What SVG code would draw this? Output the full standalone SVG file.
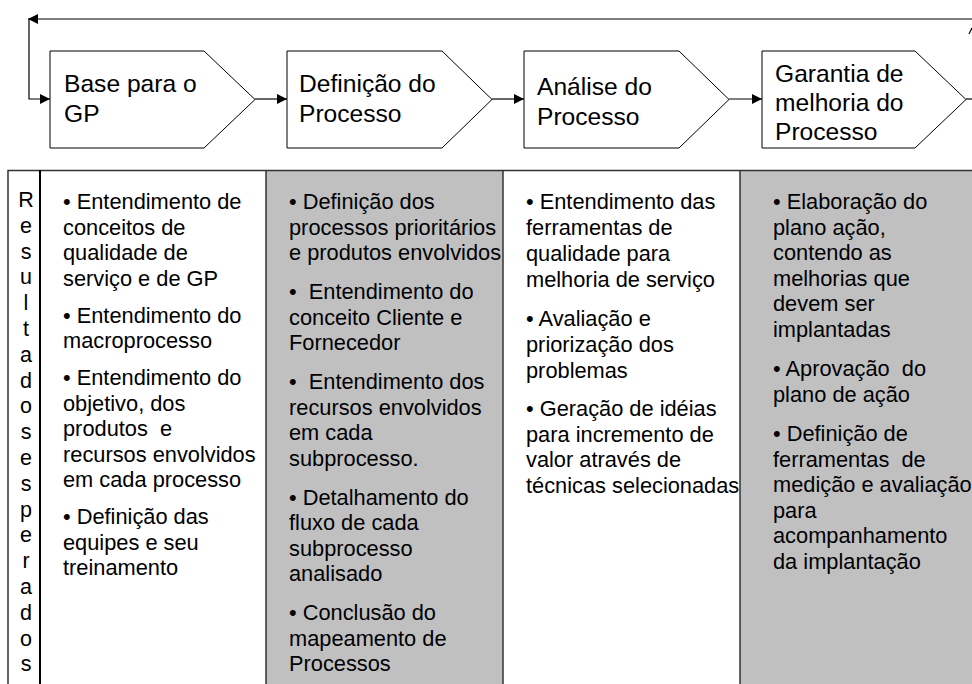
<svg xmlns="http://www.w3.org/2000/svg" width="972" height="684" viewBox="0 0 972 684">
<style>
text{font-family:"Liberation Sans",Arial,sans-serif;fill:#000;white-space:pre}
.t{font-size:24.6px}
.b{font-size:21.8px}
.v{font-size:21.5px;text-anchor:middle}
.box{fill:#fff;stroke:#000;stroke-width:1}
.con{fill:none;stroke:#000;stroke-width:1.2}
.gray{fill:#c0c0c0}
.grid{stroke:#333;stroke-width:1.5;fill:none}
</style>
<defs>
<marker id="ah" viewBox="0 0 10 10" refX="10" refY="5" markerWidth="14" markerHeight="10" markerUnits="userSpaceOnUse" orient="auto">
<path d="M0,0 L10,5 L0,10 z" fill="#000"/>
</marker>
</defs>
<rect width="972" height="684" fill="#fff"/>

<g id="connectors">
<path class="con" d="M972,19 L28,19" marker-end="url(#ah)"/>
<path class="con" d="M29,19 L29,99 L50,99" marker-end="url(#ah)"/>
<path class="con" d="M255,99 L287,99" marker-end="url(#ah)"/>
<path class="con" d="M492,99 L524,99" marker-end="url(#ah)"/>
<path class="con" d="M729,99 L762,99" marker-end="url(#ah)"/>
<path class="con" d="M966,99 L972,99"/>
<path class="con" d="M969,34 L972,28"/>
</g>

<g id="box1">
<path class="box" d="M50,51 H204 L255,99.5 L204,148 H50 Z"/>
<text class="t" x="64" y="92">Base para o</text>
<text class="t" x="64" y="122">GP</text>
</g>
<g id="box2">
<path class="box" d="M287,51 H442 L492,99.5 L442,148 H287 Z"/>
<text class="t" x="299" y="92">Definição do</text>
<text class="t" x="299" y="122">Processo</text>
</g>
<g id="box3">
<path class="box" d="M524,51 H679 L729,99.5 L679,148 H524 Z"/>
<text class="t" x="537" y="95">Análise do</text>
<text class="t" x="537" y="125">Processo</text>
</g>
<g id="box4">
<path class="box" d="M762,51 H915 L966,99.5 L915,148 H762 Z"/>
<text class="t" x="775" y="82">Garantia de</text>
<text class="t" x="775" y="111">melhoria do</text>
<text class="t" x="775" y="140">Processo</text>
</g>

<g id="table">
<rect class="gray" x="266" y="170" width="237" height="514"/>
<rect class="gray" x="740" y="170" width="232" height="514"/>
<path class="grid" d="M8,684 V170.5 H972"/>
<path d="M40,170 V684" stroke="#000" stroke-width="2"/>
<path class="grid" d="M266,170 V684 M503,170 V684 M740,170 V684"/>
</g>

<g id="label-resultados">
<text class="v" x="26" y="207">R</text>
<text class="v" x="26" y="232.8">e</text>
<text class="v" x="26" y="258.6">s</text>
<text class="v" x="26" y="284.4">u</text>
<text class="v" x="26" y="310.2">l</text>
<text class="v" x="26" y="336">t</text>
<text class="v" x="26" y="361.8">a</text>
<text class="v" x="26" y="387.6">d</text>
<text class="v" x="26" y="413.4">o</text>
<text class="v" x="26" y="439.2">s</text>
<text class="v" x="26" y="465">e</text>
<text class="v" x="26" y="490.8">s</text>
<text class="v" x="26" y="516.6">p</text>
<text class="v" x="26" y="542.4">e</text>
<text class="v" x="26" y="568.2">r</text>
<text class="v" x="26" y="594">a</text>
<text class="v" x="26" y="619.8">d</text>
<text class="v" x="26" y="645.6">o</text>
<text class="v" x="26" y="671.4">s</text>
</g>

<g id="col1">
<text class="b" x="63" y="209">• Entendimento de</text>
<text class="b" x="63" y="234.5">conceitos de</text>
<text class="b" x="63" y="260">qualidade de</text>
<text class="b" x="63" y="285.5">serviço e de GP</text>
<text class="b" x="63" y="322.5">• Entendimento do</text>
<text class="b" x="63" y="348">macroprocesso</text>
<text class="b" x="63" y="385">• Entendimento do</text>
<text class="b" x="63" y="410.5">objetivo, dos</text>
<text class="b" x="63" y="436">produtos  e</text>
<text class="b" x="63" y="461.5">recursos envolvidos</text>
<text class="b" x="63" y="487">em cada processo</text>
<text class="b" x="63" y="524">• Definição das</text>
<text class="b" x="63" y="549.5">equipes e seu</text>
<text class="b" x="63" y="575">treinamento</text>
</g>

<g id="col2">
<text class="b" x="289" y="209">• Definição dos</text>
<text class="b" x="289" y="234.5">processos prioritários</text>
<text class="b" x="289" y="260">e produtos envolvidos</text>
<text class="b" x="289" y="299">•  Entendimento do</text>
<text class="b" x="289" y="324.5">conceito Cliente e</text>
<text class="b" x="289" y="350">Fornecedor</text>
<text class="b" x="289" y="389">•  Entendimento dos</text>
<text class="b" x="289" y="414.5">recursos envolvidos</text>
<text class="b" x="289" y="440">em cada</text>
<text class="b" x="289" y="465.5">subprocesso.</text>
<text class="b" x="289" y="504.5">• Detalhamento do</text>
<text class="b" x="289" y="530">fluxo de cada</text>
<text class="b" x="289" y="555.5">subprocesso</text>
<text class="b" x="289" y="581">analisado</text>
<text class="b" x="289" y="620">• Conclusão do</text>
<text class="b" x="289" y="645.5">mapeamento de</text>
<text class="b" x="289" y="671">Processos</text>
</g>

<g id="col3">
<text class="b" x="526" y="209">• Entendimento das</text>
<text class="b" x="526" y="235">ferramentas de</text>
<text class="b" x="526" y="261">qualidade para</text>
<text class="b" x="526" y="287">melhoria de serviço</text>
<text class="b" x="526" y="325.5">• Avaliação e</text>
<text class="b" x="526" y="351.5">priorização dos</text>
<text class="b" x="526" y="377.5">problemas</text>
<text class="b" x="526" y="416">• Geração de idéias</text>
<text class="b" x="526" y="442">para incremento de</text>
<text class="b" x="526" y="467">valor através de</text>
<text class="b" x="526" y="493">técnicas selecionadas</text>
</g>

<g id="col4">
<text class="b" x="773" y="209">• Elaboração do</text>
<text class="b" x="773" y="234.5">plano ação,</text>
<text class="b" x="773" y="260">contendo as</text>
<text class="b" x="773" y="285.5">melhorias que</text>
<text class="b" x="773" y="311">devem ser</text>
<text class="b" x="773" y="336.5">implantadas</text>
<text class="b" x="773" y="376">• Aprovação  do</text>
<text class="b" x="773" y="401.5">plano de ação</text>
<text class="b" x="773" y="441">• Definição de</text>
<text class="b" x="773" y="466.5">ferramentas  de</text>
<text class="b" x="773" y="492">medição e avaliação</text>
<text class="b" x="773" y="517.5">para</text>
<text class="b" x="773" y="543">acompanhamento</text>
<text class="b" x="773" y="568.5">da implantação</text>
</g>
</svg>
